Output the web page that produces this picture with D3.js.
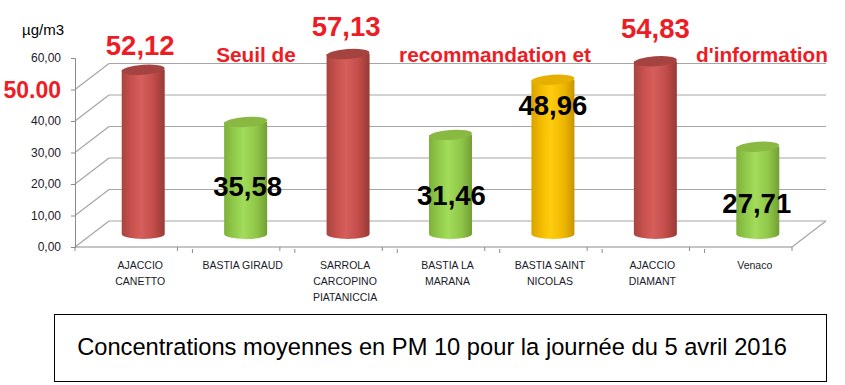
<!DOCTYPE html>
<html>
<head>
<meta charset="utf-8">
<script src="https://cdn.jsdelivr.net/npm/d3@7"></script>
<style>
  body { margin: 0; background: #fff; }
  svg { display: block; font-family: "Liberation Sans", Arial, sans-serif; }
</style>
</head>
<body>
<div id="chart"></div>
<script>
// Stations and daily mean PM10 values (5 avril 2016)
let stations = ["AJACCIO\nCANETTO", "BASTIA GIRAUD", "SARROLA\nCARCOPINO\nPIATANICCIA",
    "BASTIA LA\nMARANA", "BASTIA SAINT\nNICOLAS", "AJACCIO\nDIAMANT", "Venaco"];
let pm10 = [52.12, 35.58, 57.13, 31.46, 48.96, 54.83, 27.71];
let valueLabels = ["52,12", "35,58", "57,13", "31,46", "48,96", "54,83", "27,71"];
// level class per station: over threshold / near / under
let level = ["high", "low", "high", "low", "mid", "high", "low"];
let yTicks = [0, 10, 20, 30, 40, 50, 60];
let gridTicks = [0, 10, 20, 30, 40, 50];
let threshold = 50;
let annotation = ["Seuil de", "recommandation et", "d'information"];

let svgWidth = 845;
let svgHeight = 385;

let svg = d3.select("#chart")
    .append("svg")
    .attr("width", svgWidth)
    .attr("height", svgHeight);

// 3D depth offset of the back wall
let depthX = 34;
let depthY = -26;

let x = d3.scaleBand()
    .domain(stations)
    .range([75, 792]);

let y = d3.scaleLinear()
    .domain([0, 60])
    .range([247, 58]);

let red = "#ee1c25";
let gridColor = "#a6a6a6";

// gradients for the cylinders
let palette = {
    high: { stops: ["#a94440", "#c9524f", "#d65f5c", "#c14c49", "#973a37"], top: "#a54340" },
    low:  { stops: ["#7eb13a", "#93cc4c", "#a2dc5a", "#8fc648", "#739f33"], top: "#89b843" },
    mid:  { stops: ["#d9a300", "#f5bd00", "#ffcc10", "#eeb800", "#c99400"], top: "#e5b000" }
};
let defs = svg.append("defs");
Object.keys(palette).forEach(function (k) {
    let g = defs.append("linearGradient")
        .attr("id", "grad-" + k)
        .attr("x1", "0%").attr("x2", "100%")
        .attr("y1", "0%").attr("y2", "0%");
    let offs = [0, 0.25, 0.45, 0.75, 1];
    palette[k].stops.forEach(function (c, i) {
        g.append("stop").attr("offset", offs[i]).attr("stop-color", c);
    });
});

// back wall gridlines and side wall diagonals
let walls = svg.append("g");
walls.selectAll(".grid")
    .data(gridTicks)
    .enter()
    .append("line")
    .attr("x1", x.range()[0] + depthX)
    .attr("x2", x.range()[1] + depthX)
    .attr("y1", d => y(d) + depthY)
    .attr("y2", d => y(d) + depthY)
    .attr("stroke", gridColor)
    .attr("stroke-width", 1.2);

walls.selectAll(".diag")
    .data(gridTicks)
    .enter()
    .append("line")
    .attr("x1", x.range()[0])
    .attr("x2", x.range()[0] + depthX)
    .attr("y1", d => y(d))
    .attr("y2", d => y(d) + depthY)
    .attr("stroke", gridColor)
    .attr("stroke-width", 1.2);

// floor right edge
walls.append("line")
    .attr("x1", x.range()[1])
    .attr("x2", x.range()[1] + depthX)
    .attr("y1", y(0))
    .attr("y2", y(0) + depthY)
    .attr("stroke", gridColor)
    .attr("stroke-width", 1.2);

// y axis
let leftAxis = d3.axisLeft(y)
    .tickValues(yTicks)
    .tickSize(4)
    .tickPadding(10)
    .tickFormat(d => d3.format(".2f")(d).replace(".", ","));

let yAxis = svg.append("g")
    .attr("transform", `translate(${x.range()[0]}, 0)`)
    .call(leftAxis);
yAxis.select(".domain").attr("stroke", "#8c8c8c");
yAxis.selectAll(".tick line").attr("stroke", "#8c8c8c");
yAxis.selectAll(".tick text")
    .attr("font-size", "12px")
    .attr("fill", "#1a1a2a")
    .attr("font-family", "'Liberation Sans', Arial, sans-serif");
// the 50 tick is the alert threshold, drawn big and red
yAxis.selectAll(".tick")
    .filter(d => d === threshold)
    .select("text")
    .text(d3.format(".2f")(threshold))
    .attr("x", -14)
    .attr("dy", "0.36em")
    .attr("font-size", "23px")
    .attr("font-weight", "bold")
    .attr("fill", red);

// x axis line with ticks at band boundaries
let xAxis = svg.append("g");
xAxis.append("line")
    .attr("x1", x.range()[0])
    .attr("x2", x.range()[1])
    .attr("y1", y(0))
    .attr("y2", y(0))
    .attr("stroke", "#8c8c8c");
let bounds = stations.map(d => x(d)).concat([x.range()[1]]);
xAxis.selectAll(".xtick")
    .data(bounds)
    .enter()
    .append("line")
    .attr("x1", d => d).attr("x2", d => d)
    .attr("y1", y(0)).attr("y2", y(0) + 4)
    .attr("stroke", "#8c8c8c");
xAxis.selectAll(".xtick2")
    .data(bounds.slice(1, -1))
    .enter()
    .append("line")
    .attr("x1", d => d + 15).attr("x2", d => d + 15)
    .attr("y1", y(0) + 2).attr("y2", y(0) + 6)
    .attr("stroke", "#8c8c8c");

// category labels
let catLabels = svg.append("g")
    .selectAll("text")
    .data(stations)
    .enter()
    .append("text")
    .attr("text-anchor", "middle")
    .attr("font-size", "10.5px")
    .attr("fill", "#1a1a2a")
    .attr("transform", d => `translate(${x(d) + x.bandwidth() / 2 + 14}, 269)`);
catLabels.each(function (d) {
    let t = d3.select(this);
    d.split("\n").forEach(function (line, i) {
        t.append("tspan").attr("x", 0).attr("y", i * 16).text(line);
    });
});

// cylinders sit on the middle of the floor depth
let rx = 21.5;
let ry = 5;
let cx = d => x(d) + x.bandwidth() / 2 + depthX / 2;
let yMid = v => y(v) + depthY / 2;

let cylinders = svg.append("g")
    .selectAll("g")
    .data(stations.map((s, i) => ({ name: s, value: pm10[i], level: level[i] })))
    .enter()
    .append("g");

cylinders.append("path")
    .attr("d", function (d) {
        let c = cx(d.name), top = yMid(d.value), bot = yMid(0);
        return `M${c - rx},${top} L${c - rx},${bot} A${rx},${ry} 0 0 0 ${c + rx},${bot} L${c + rx},${top} Z`;
    })
    .attr("fill", d => `url(#grad-${d.level})`);

cylinders.append("ellipse")
    .attr("cx", d => cx(d.name))
    .attr("cy", d => yMid(d.value))
    .attr("rx", rx)
    .attr("ry", ry)
    .attr("transform", d => `rotate(-4, ${cx(d.name)}, ${yMid(d.value)})`)
    .attr("fill", d => palette[d.level].top);

// value labels, nudged by hand like the original
let labelNudge = [-15, 74, -18, 70, 35, -23, 66];
let labelShift = [-3, 2, -2, 1, 0, 0, -1];
svg.append("g")
    .selectAll("text")
    .data(stations)
    .enter()
    .append("text")
    .attr("x", (d, i) => cx(d) + labelShift[i])
    .attr("y", (d, i) => yMid(pm10[i]) + labelNudge[i])
    .attr("text-anchor", "middle")
    .attr("font-size", "27.5px")
    .attr("font-weight", "bold")
    .attr("fill", (d, i) => pm10[i] > threshold ? red : "#000")
    .text((d, i) => valueLabels[i]);

// threshold annotation spread over the gaps
let annotX = [256, 495, 762];
svg.append("g")
    .selectAll("text")
    .data(annotation)
    .enter()
    .append("text")
    .attr("x", (d, i) => annotX[i])
    .attr("y", 62)
    .attr("text-anchor", "middle")
    .attr("font-size", "20.8px")
    .attr("font-weight", "bold")
    .attr("fill", red)
    .text(d => d);

// unit
svg.append("text")
    .attr("x", 22)
    .attr("y", 35)
    .attr("font-size", "15px")
    .attr("fill", "#000")
    .text("µg/m3");

// title box
svg.append("rect")
    .attr("x", 54.5)
    .attr("y", 314.5)
    .attr("width", 772)
    .attr("height", 67)
    .attr("fill", "none")
    .attr("stroke", "#000")
    .attr("stroke-width", 1);

svg.append("text")
    .attr("x", 432)
    .attr("y", 355)
    .attr("text-anchor", "middle")
    .attr("font-size", "23.7px")
    .attr("fill", "#000")
    .text("Concentrations moyennes en PM 10 pour la journée du 5 avril 2016");
</script>
</body>
</html>
